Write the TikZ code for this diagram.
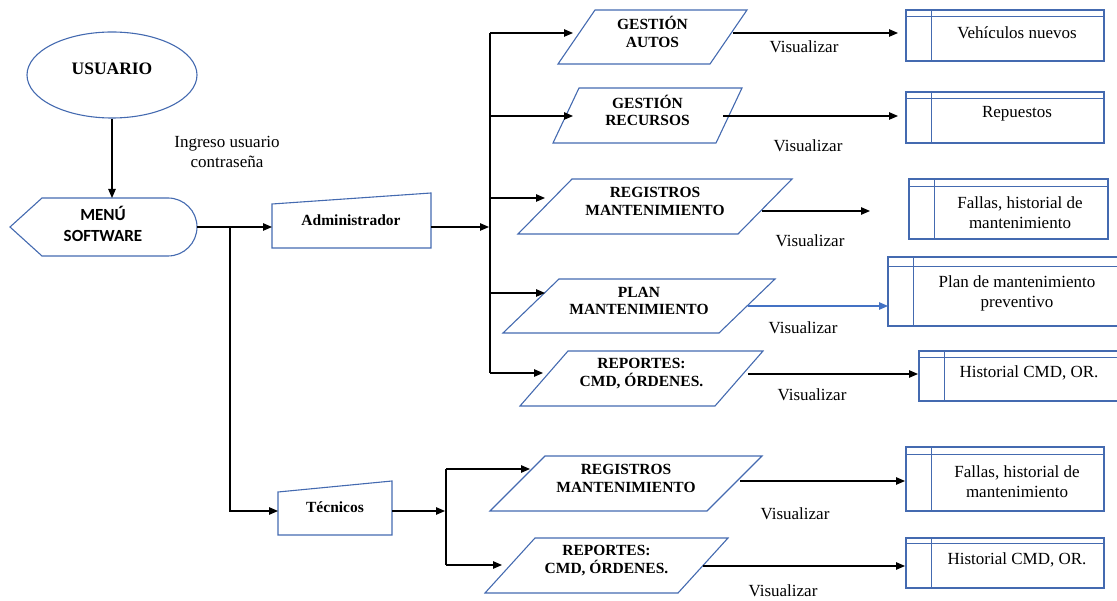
\documentclass[tikz,border=0pt]{standalone}
\usepackage{fontspec}
\setmainfont{Liberation Serif}
\newfontfamily\calibfont{Carlito}
\usetikzlibrary{arrows.meta,shapes.geometric}
\definecolor{outline}{RGB}{68,106,176}
\definecolor{bluearrow}{RGB}{68,114,196}

\tikzset{
  outl/.style={draw=outline, line width=1.1pt, line join=miter},
  innerl/.style={draw=outline, line width=0.9pt},
  conn/.style={line width=1.1pt, -{Triangle[length=9pt,width=7.5pt]}},
  busline/.style={line width=1.1pt},
  bold label/.style={font=\fontsize{15.5}{17.5}\selectfont\bfseries, align=center, inner sep=0pt},
  plain label/.style={font=\fontsize{17}{20}\selectfont, align=center, inner sep=0pt},
  viz/.style={font=\fontsize{17}{20}\selectfont, inner sep=0pt},
}

% data input box: name, x bottom-left, x top-left, y top, y bottom, width, text
\newcommand\iobox[7]{%
  \draw[outl] (#2,#5) -- (#3,#4) -- ({#3+#6},#4) -- ({#2+#6},#5) -- cycle;
  \node[bold label] (#1) at ({(#2+#3+#6)/2},{(#4+#5)/2-5}) {#7};
}
% internal storage box: left, top, right, bottom, inner line offset from top
\newcommand\storebox[5]{%
  \draw[outl] (#1,#2) rectangle (#3,#4);
  \draw[innerl] (#1,{#2+#5}) -- (#3,{#2+#5});
  \draw[innerl] ({#1+25},#2) -- ({#1+25},#4);
}

\begin{document}
\begin{tikzpicture}[x=1pt,y=-1pt]
\useasboundingbox (0,0) rectangle (1117,601);

% ---------- user and main menu ----------
\node[outl, ellipse, minimum width=170pt, minimum height=86pt, inner sep=0pt] (usuario) at (112,75) {};
\node[font=\fontsize{17.5}{20}\selectfont\bfseries, inner sep=0pt] (usuariotxt) at (112,69) {USUARIO};

\draw[outl] (10,227) -- (42,198) -- (168,198)
  .. controls (184,198) and (197,211) .. (197,227)
  .. controls (197,243) and (184,256) .. (168,256) -- (42,256) -- cycle;
\node[font=\calibfont\fontsize{17}{21}\selectfont\bfseries, align=center, inner sep=0pt] (menu) at (103,224) {MENÚ\\SOFTWARE};
\coordinate (menutop) at (112,198);
\coordinate (menuright) at (197,227);

\node[font=\fontsize{17}{20}\selectfont, align=center, inner sep=0pt] (ingreso) at (227,152) {Ingreso usuario\\contraseña};

\draw[conn] (usuario.south) -- (menutop);

% ---------- roles ----------
\draw[outl] (272,204) -- (431,193) -- (431,248) -- (272,248) -- cycle;
\node[bold label] (admin) at (351,220) {Administrador};
\coordinate (adminin) at (272,227);
\coordinate (adminout) at (431,227);

\draw[outl] (278,492) -- (392,481) -- (392,535) -- (278,535) -- cycle;
\node[bold label] (tecnicos) at (335,507) {Técnicos};
\coordinate (tecin) at (278,511);
\coordinate (tecout) at (392,511);

\coordinate (split) at (230,227);
\draw[conn] (menuright) -- (adminin);
\draw[conn] (split) |- (tecin);

% ---------- administrator options ----------
\iobox{p1}{558}{595}{10}{64}{152}{GESTIÓN\\AUTOS}
\iobox{p2}{553}{579}{88}{143}{163}{GESTIÓN\\RECURSOS}
\iobox{p3}{518}{572}{179}{234}{220}{REGISTROS\\MANTENIMIENTO}
\iobox{p4}{503}{559}{279}{333}{216}{PLAN\\MANTENIMIENTO}
\iobox{p5}{520}{568}{351}{406}{195}{REPORTES:\\CMD, ÓRDENES.}

\coordinate (busa) at (490,227);
\coordinate (busa1) at (490,33);
\coordinate (busa2) at (490,116);
\coordinate (busa3) at (490,198);
\coordinate (busa4) at (490,293);
\coordinate (busa5) at (490,373);
\draw[busline] (busa1) -- (busa5);
\draw[conn] (adminout) -- ([xshift=-1pt]busa);

\coordinate (p1in) at (573,33);
\coordinate (p2in) at (573,116);
\coordinate (p3in) at (545,198);
\coordinate (p4in) at (545,293);
\coordinate (p5in) at (543,373);
\draw[conn] (busa1) -- (p1in);
\draw[conn] (busa2) -- (p2in);
\draw[conn] (busa3) -- (p3in);
\draw[conn] (busa4) -- (p4in);
\draw[conn] (busa5) -- (p5in);

% ---------- administrator outputs ----------
\storebox{906}{10}{1104}{61}{6}
\node[plain label] (d1) at (1017,33) {Vehículos nuevos};
\storebox{906}{92}{1104}{143}{6}
\node[plain label] (d2) at (1017,114) {Repuestos};
\storebox{909}{179}{1108}{239}{7}
\node[plain label] (d3) at (1020,213) {Fallas, historial de\\mantenimiento};
\storebox{888}{257}{1119}{326}{9}
\node[plain label] (d4) at (1017,293) {Plan de mantenimiento\\preventivo};
\storebox{919}{351}{1119}{401}{6}
\node[plain label] (d5) at (1029,373) {Historial CMD, OR.};

\coordinate (p1out) at (733,33);
\coordinate (p2out) at (723,116);
\coordinate (p3out) at (762,211);
\coordinate (p4out) at (748,306);
\coordinate (p5out) at (748,374);
\coordinate (d1in) at (898,33);
\coordinate (d2in) at (898,116);
\coordinate (d3end) at (870,211);
\coordinate (d4in) at (888,306);
\coordinate (d5in) at (918,374);
\draw[conn] (p1out) -- (d1in);
\draw[conn] (p2out) -- (d2in);
\draw[conn] (p3out) -- (d3end);
\draw[conn, draw=bluearrow, fill=bluearrow] (p4out) -- (d4in);
\draw[conn] (p5out) -- (d5in);

\node[viz] (v1) at (804,47) {Visualizar};
\node[viz] (v2) at (808,146) {Visualizar};
\node[viz] (v3) at (810,241) {Visualizar};
\node[viz] (v4) at (803,328) {Visualizar};
\node[viz] (v5) at (812,395) {Visualizar};

% ---------- technician options ----------
\iobox{p6}{490}{545}{456}{511}{217}{REGISTROS\\MANTENIMIENTO}
\iobox{p7}{485}{535}{538}{593}{193}{REPORTES:\\CMD, ÓRDENES.}

\coordinate (busb) at (446,511);
\coordinate (busb1) at (446,469);
\coordinate (busb2) at (446,565);
\draw[busline] (busb1) -- (busb2);
\draw[conn] (tecout) -- ([xshift=-1pt]busb);
\coordinate (p6in) at (530,469);
\coordinate (p7in) at (502,565);
\draw[conn] (busb1) -- (p6in);
\draw[conn] (busb2) -- (p7in);

\storebox{906}{447}{1104}{511}{7}
\node[plain label] (d6) at (1017,482) {Fallas, historial de\\mantenimiento};
\storebox{906}{538}{1104}{588}{5}
\node[plain label] (d7) at (1017,560) {Historial CMD, OR.};

\coordinate (p6out) at (740,481);
\coordinate (p7out) at (703,566);
\coordinate (d6in) at (905,481);
\coordinate (d7in) at (905,566);
\draw[conn] (p6out) -- (d6in);
\draw[conn] (p7out) -- (d7in);

\node[viz] (v6) at (795,514) {Visualizar};
\node[viz] (v7) at (783,591) {Visualizar};
\end{tikzpicture}
\end{document}
